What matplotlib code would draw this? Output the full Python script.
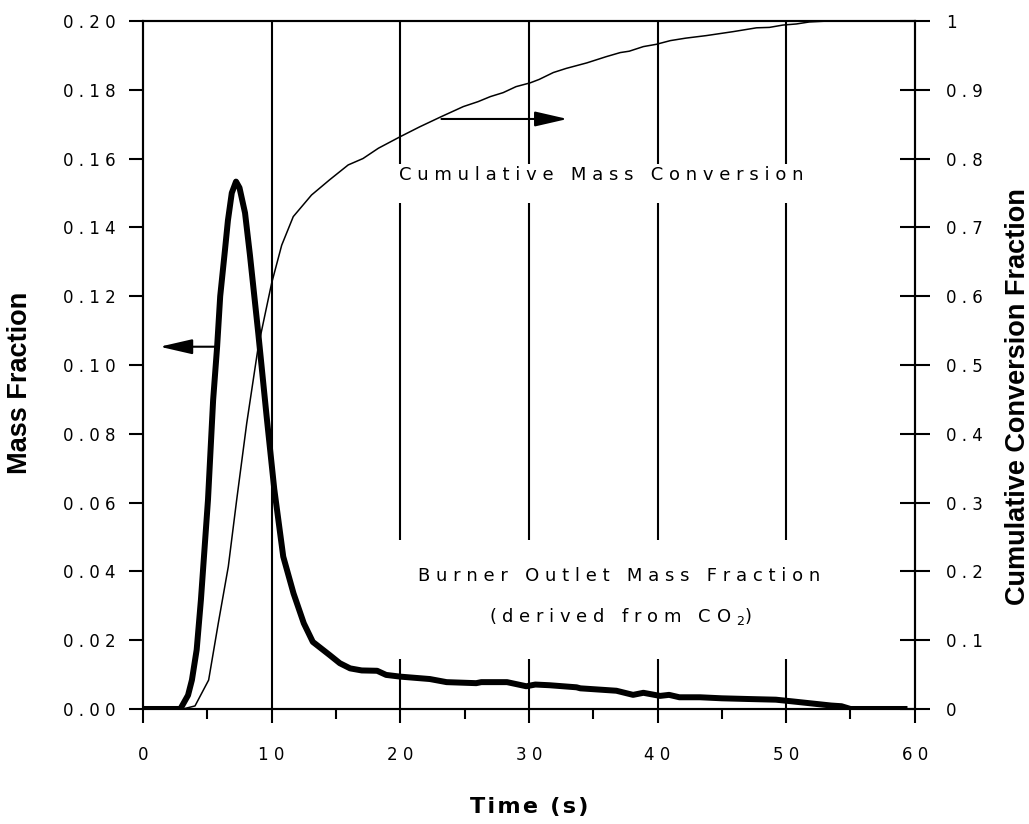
import numpy as np
import matplotlib.pyplot as plt
from matplotlib.ticker import FixedLocator, FuncFormatter

# Burner outlet mass fraction (left axis)
t_mass = [0, 2.9, 3.5, 3.8, 4.17, 4.5, 5.05, 5.45, 5.76, 6.0, 6.37, 6.6, 6.9, 7.23,
          7.5, 7.93, 8.31, 8.96, 9.61, 10.2, 10.9, 11.7, 12.5, 13.2, 14.5, 15.3,
          16.1, 17.0, 18.2, 18.9, 20.0, 22.3, 23.6, 25.9, 26.3, 28.3, 29.8, 30.5,
          31.6, 33.7, 34.0, 36.8, 38.1, 38.9, 40.2, 40.9, 41.7, 43.3, 45.0, 47.0,
          49.2, 50.5, 52.0, 53.5, 54.3, 55.0, 59.2]
mass_frac = [0, 0, 0.004, 0.0084, 0.0172, 0.0317, 0.0608, 0.0898, 0.1053, 0.1200,
             0.1334, 0.1420, 0.1500, 0.1533, 0.1515, 0.1442, 0.1320, 0.1092, 0.0850,
             0.0640, 0.0443, 0.0336, 0.0249, 0.0195, 0.0157, 0.0133, 0.0118, 0.0112,
             0.0111, 0.0099, 0.0094, 0.0087, 0.0078, 0.0075, 0.0078, 0.0078, 0.0066,
             0.0071, 0.0069, 0.0063, 0.0060, 0.0053, 0.0041, 0.0047, 0.0038, 0.0041,
             0.0034, 0.0034, 0.0031, 0.0029, 0.0027, 0.0022, 0.0016, 0.0010, 0.0008,
             0.0, 0.0]

# Cumulative mass conversion (right axis)
t_conv = [0, 3.1, 4.04, 5.1, 5.85, 6.63, 7.28, 8.06, 8.96, 10.0, 10.78, 11.68, 13.1,
          14.5, 15.95, 17.1, 18.3, 20.0, 21.5, 23.2, 24.9, 26.05, 27.0, 28.0, 29.0,
          30.1, 30.8, 31.9, 32.9, 34.5, 36.0, 37.1, 37.8, 38.9, 39.9, 41.0, 42.2,
          43.8, 45.9, 47.7, 48.7, 49.75, 50.8, 51.8, 53.4, 59.0]
conv_frac = [0, 0, 0.0044, 0.042, 0.1245, 0.207, 0.3038, 0.415, 0.527, 0.619, 0.674,
             0.7156, 0.747, 0.769, 0.7907, 0.800, 0.815, 0.8318, 0.846, 0.861, 0.8755,
             0.8827, 0.890, 0.8958, 0.9045, 0.910, 0.915, 0.925, 0.931, 0.939, 0.948,
             0.954, 0.956, 0.9627, 0.966, 0.9714, 0.975, 0.9787, 0.9845, 0.990, 0.9906,
             0.994, 0.9956, 0.9985, 1.0, 1.0]

x_ticks = [0, 10, 20, 30, 40, 50, 60]
left_ticks = np.round(np.arange(0, 0.201, 0.02), 2)
right_ticks = np.round(np.arange(0, 1.01, 0.1), 1)

note_font = dict(family='DejaVu Sans', size=13)


def spaced(s, gap=' '):
    return gap.join(s)


def spaced_words(s):
    return '   '.join(spaced(w) for w in s.split())


fig = plt.figure(figsize=(10.29, 8.24), dpi=100)
ax = fig.add_axes([0.139, 0.1396, 0.750, 0.835])
ax2 = ax.twinx()

# grid lines at 20..50 are broken where the labels sit
ax.vlines(10, 0, 0.2, color='black', lw=1.5, zorder=1)
for gx in [20, 30, 40, 50]:
    ax.vlines(gx, 0.1584, 0.2, color='black', lw=1.5, zorder=1)
    ax.vlines(gx, 0.0491, 0.1471, color='black', lw=1.5, zorder=1)
    ax.vlines(gx, 0, 0.0145, color='black', lw=1.5, zorder=1)

ax.plot(t_mass, mass_frac, color='black', lw=4.3, solid_joinstyle='round', zorder=3)
ax2.plot(t_conv, conv_frac, color='black', lw=1.1, zorder=3)

ax.set_xlim(0, 60)
ax.set_ylim(0, 0.2)
ax2.set_ylim(0, 1)

for a in (ax, ax2):
    for sp in a.spines.values():
        sp.set_linewidth(1.5)

ax.xaxis.set_major_locator(FixedLocator(x_ticks))
ax.xaxis.set_minor_locator(FixedLocator([5, 15, 25, 35, 45, 55]))
ax.xaxis.set_major_formatter(FuncFormatter(lambda v, p: spaced(f"{v:.0f}")))
ax.yaxis.set_major_locator(FixedLocator(left_ticks))
ax.yaxis.set_major_formatter(FuncFormatter(lambda v, p: spaced(f"{v:.2f}")))
ax2.yaxis.set_major_locator(FixedLocator(right_ticks))
ax2.yaxis.set_major_formatter(
    FuncFormatter(lambda v, p: spaced(f"{v:g}")))

ax.tick_params(axis='x', which='major', direction='out', length=10, width=1.5, pad=17)
ax.tick_params(axis='x', which='minor', direction='out', length=7, width=1.5)
ax.tick_params(axis='y', direction='out', length=10, width=1.5, pad=10)
ax2.tick_params(axis='y', direction='inout', length=21, width=1.5, pad=12)
for lab in ax.get_xticklabels() + ax.get_yticklabels() + ax2.get_yticklabels():
    lab.set_fontfamily('DejaVu Sans')
    lab.set_fontsize(12)

ax.set_xlabel(spaced('Time (s)', '\u200a'), fontfamily='DejaVu Sans',
              fontweight='bold', fontsize=16)
ax.xaxis.set_label_coords(0.501, -0.128)
ax.set_ylabel('Mass Fraction', fontfamily='Liberation Sans',
              fontweight='bold', fontsize=19.5)
ax.yaxis.set_label_coords(-0.1425, 0.4746)
ax2.set_ylabel('Cumulative Conversion Fraction', fontfamily='Liberation Sans',
               fontweight='bold', fontsize=19.5)
ax2.yaxis.set_label_coords(1.1166, 0.4535)

# curve annotations
ax.text(35.6, 0.1552, spaced_words('Cumulative Mass Conversion'),
        ha='center', va='center', fontdict=note_font)
ax.text(37.0, 0.0387, spaced_words('Burner Outlet Mass Fraction'),
        ha='center', va='center', fontdict=note_font)
ax.text(37.1, 0.0268, '( d e r i v e d   f r o m   C O $_{2}$)',
        ha='center', va='center', fontdict=note_font)

arrow = dict(arrowstyle='-|>,head_length=1.0,head_width=0.23', mutation_scale=20,
             color='black', lw=1.5, shrinkA=0, shrinkB=0)
ax.annotate('', xy=(33.0, 0.1715), xytext=(23.2, 0.1715), arrowprops=arrow)
ax.annotate('', xy=(1.3, 0.1053), xytext=(5.6, 0.1053), arrowprops=arrow)

fig.savefig('out.png', dpi=100, facecolor='white')
